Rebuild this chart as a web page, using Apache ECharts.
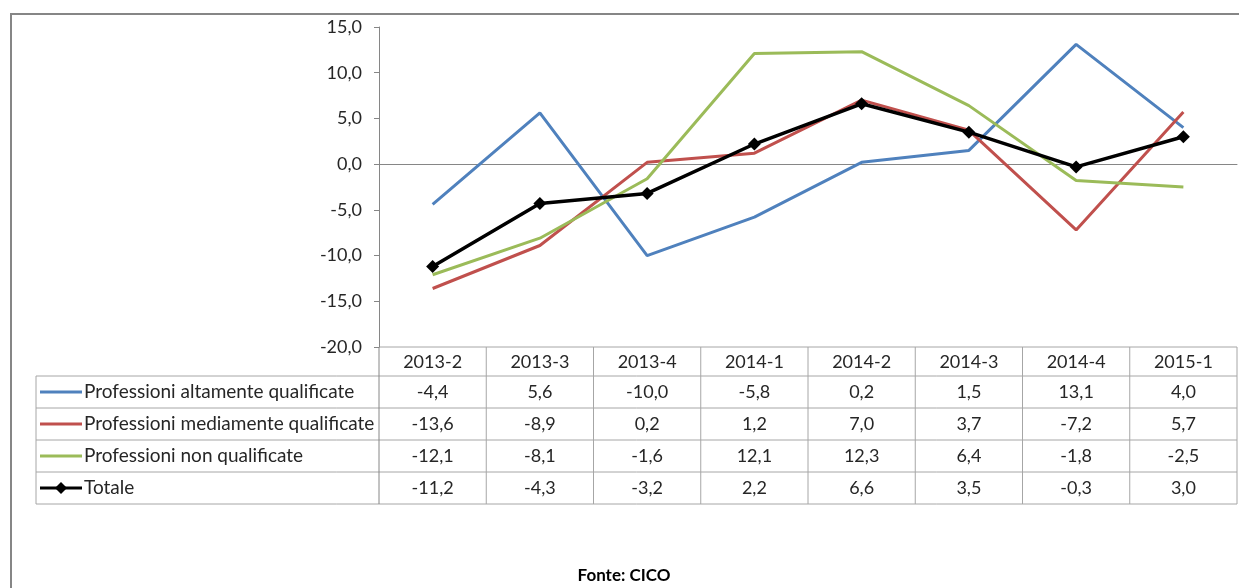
<!DOCTYPE html>
<html>
<head>
<meta charset="utf-8">
<script src="https://cdn.jsdelivr.net/npm/echarts@6/dist/echarts.min.js"></script>
<style>
html, body { margin: 0; padding: 0; background: #fff; }
#chart { width: 1239px; height: 588px; }
</style>
</head>
<body>
<div id="chart"></div>
<script>
const categories = ['2013-2', '2013-3', '2013-4', '2014-1', '2014-2', '2014-3', '2014-4', '2015-1']
const altamente = [-4.4, 5.6, -10.0, -5.8, 0.2, 1.5, 13.1, 4.0]
const mediamente = [-13.6, -8.9, 0.2, 1.2, 7.0, 3.7, -7.2, 5.7]
const nonQualificate = [-12.1, -8.1, -1.6, 12.1, 12.3, 6.4, -1.8, -2.5]
const totale = [-11.2, -4.3, -3.2, 2.2, 6.6, 3.5, -0.3, 3.0]
const seriesNames = ['Professioni altamente qualificate', 'Professioni mediamente qualificate', 'Professioni non qualificate', 'Totale']
const seriesColors = ['#4F81BD', '#C0504D', '#9BBB59', '#000000']
const yMin = -20
const yMax = 15
const yStep = 5
const sourceText = 'Fonte: CICO'

const FONT = 'Lato, "Open Sans", sans-serif'
const GRID_COLOR = '#a6a6a6'
const AXIS_COLOR = '#868686'
const TEXT_COLOR = '#262626'

function fmt(v) {
    return v.toFixed(1).replace('.', ',')
}

const allSeries = [altamente, mediamente, nonQualificate, totale]

const chart = echarts.init(document.getElementById('chart'), null, { renderer: 'canvas' })

const option = {
    animation: false,
    backgroundColor: '#fff',
    grid: { left: 379, right: 2, top: 27, bottom: 241, containLabel: false },
    xAxis: {
        type: 'category',
        data: categories,
        boundaryGap: true,
        axisLine: { onZero: true, lineStyle: { color: AXIS_COLOR, width: 1 } },
        axisTick: { show: false },
        axisLabel: { show: false },
        splitLine: { show: false }
    },
    yAxis: {
        type: 'value',
        min: yMin,
        max: yMax,
        interval: yStep,
        axisLine: { show: true, lineStyle: { color: AXIS_COLOR, width: 1 } },
        axisTick: { show: true, inside: false, length: 5, lineStyle: { color: AXIS_COLOR } },
        axisLabel: {
            margin: 17,
            color: TEXT_COLOR,
            fontFamily: FONT,
            fontSize: 18,
            formatter: v => fmt(v)
        },
        splitLine: { show: false }
    },
    series: allSeries.map((data, i) => ({
        name: seriesNames[i],
        type: 'line',
        data: data,
        symbol: i === 3 ? 'diamond' : 'none',
        symbolSize: 13,
        showSymbol: i === 3,
        lineStyle: { color: seriesColors[i], width: i === 3 ? 3.5 : 3 },
        itemStyle: { color: seriesColors[i] },
        z: 2 + i
    }))
}

chart.setOption(option)

// tabella dati sotto il grafico, costruita sulle coordinate dell'asse
const cx = categories.map(c => chart.convertToPixel({ xAxisIndex: 0 }, c))
const half = (cx[1] - cx[0]) / 2
const plotLeft = cx[0] - half
const plotRight = cx[cx.length - 1] + half
const plotBottom = chart.convertToPixel({ yAxisIndex: 0 }, yMin)
const tableLeft = 36
const headerBottom = plotBottom + 29
const rowH = 32
const tableBottom = headerBottom + rowH * allSeries.length

const graphics = []
function hLine(x1, x2, y, color) {
    graphics.push({ type: 'line', shape: { x1: x1, y1: y, x2: x2, y2: y }, style: { stroke: color || GRID_COLOR, lineWidth: 1 }, silent: true })
}
function vLine(x, y1, y2, color) {
    graphics.push({ type: 'line', shape: { x1: x, y1: y1, x2: x, y2: y2 }, style: { stroke: color || GRID_COLOR, lineWidth: 1 }, silent: true })
}
function txt(text, x, y, align, font) {
    graphics.push({
        type: 'text',
        style: { text: text, x: x, y: y, align: align, verticalAlign: 'middle', font: font || ('18px ' + FONT), fill: TEXT_COLOR },
        silent: true
    })
}

// cornice esterna
graphics.push({ type: 'rect', shape: { x: 11, y: 14, width: 1260, height: 620 }, style: { fill: 'none', stroke: AXIS_COLOR, lineWidth: 2 }, silent: true, z: 0 })

hLine(plotLeft, plotRight, plotBottom)
hLine(tableLeft, plotRight, headerBottom)
for (let r = 1; r <= allSeries.length; r++) hLine(tableLeft, plotRight, headerBottom + rowH * r)
vLine(tableLeft, headerBottom, tableBottom)
vLine(plotLeft, plotBottom, tableBottom, AXIS_COLOR)
for (let i = 1; i <= categories.length; i++) vLine(cx[i - 1] + half, plotBottom, tableBottom)

categories.forEach((c, i) => txt(c, cx[i], (plotBottom + headerBottom) / 2 + 1, 'center'))

allSeries.forEach((data, r) => {
    const yc = headerBottom + rowH * r + rowH / 2
    graphics.push({ type: 'line', shape: { x1: tableLeft + 4, y1: yc, x2: tableLeft + 46, y2: yc }, style: { stroke: seriesColors[r], lineWidth: 3 }, silent: true })
    if (r === 3) {
        const mx = tableLeft + 25
        graphics.push({ type: 'polygon', shape: { points: [[mx, yc - 6], [mx + 6, yc], [mx, yc + 6], [mx - 6, yc]] }, style: { fill: '#000' }, silent: true })
    }
    txt(seriesNames[r], tableLeft + 48, yc, 'left', '19px ' + FONT)
    data.forEach((v, i) => txt(fmt(v), cx[i], yc, 'center'))
})

txt(sourceText, 624, 576, 'center', 'bold 17px ' + FONT)
graphics[graphics.length - 1].style.fill = '#000'

chart.setOption({ graphic: graphics })
</script>
</body>
</html>
